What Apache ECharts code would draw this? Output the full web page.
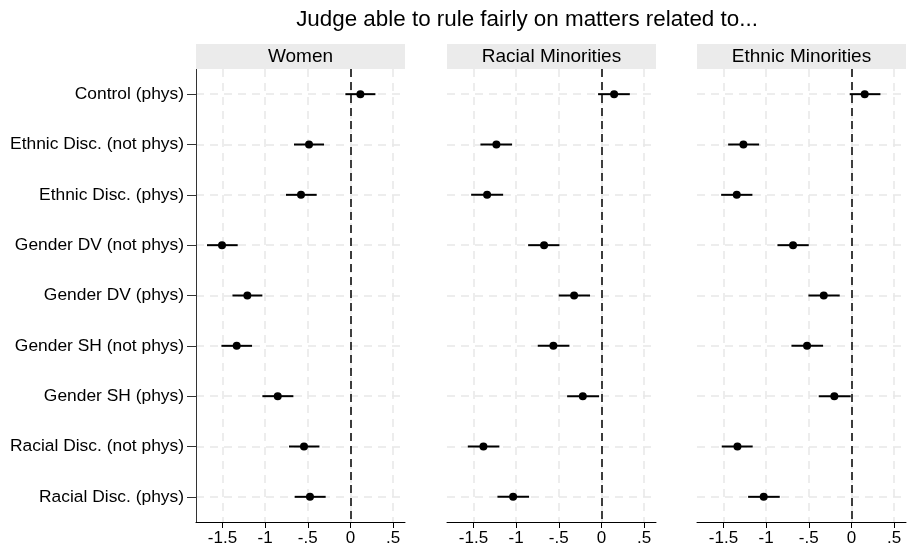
<!DOCTYPE html>
<html><head><meta charset="utf-8">
<script src="https://cdn.jsdelivr.net/npm/echarts@6/dist/echarts.min.js"></script>
<style>html,body{margin:0;padding:0;background:#fff}#c{width:907px;height:551px}</style>
</head><body><div id="c"></div>
<script>
const titleText = 'Judge able to rule fairly on matters related to...';
const panelNames = ['Women', 'Racial Minorities', 'Ethnic Minorities'];
const categories = ['Control (phys)', 'Ethnic Disc. (not phys)', 'Ethnic Disc. (phys)', 'Gender DV (not phys)', 'Gender DV (phys)', 'Gender SH (not phys)', 'Gender SH (phys)', 'Racial Disc. (not phys)', 'Racial Disc. (phys)'];
const tickValues = [-1.5, -1, -0.5, 0, 0.5];
const tickLabels = ['-1.5', '-1', '-.5', '0', '.5'];

const womenEst = [0.117, -0.485, -0.579, -1.505, -1.208, -1.333, -0.852, -0.544, -0.474];
const womenLo  = [-0.059, -0.661, -0.755, -1.681, -1.383, -1.512, -1.032, -0.720, -0.653];
const womenHi  = [0.293, -0.309, -0.395, -1.321, -1.032, -1.153, -0.668, -0.363, -0.290];

const racialEst = [0.149, -1.231, -1.340, -0.672, -0.320, -0.563, -0.218, -1.383, -1.035];
const racialLo  = [-0.039, -1.418, -1.527, -0.859, -0.500, -0.746, -0.402, -1.566, -1.219];
const racialHi  = [0.333, -1.047, -1.152, -0.492, -0.133, -0.375, -0.027, -1.196, -0.848];

const ethnicEst = [0.156, -1.266, -1.344, -0.684, -0.324, -0.520, -0.200, -1.336, -1.028];
const ethnicLo  = [-0.020, -1.445, -1.527, -0.867, -0.504, -0.703, -0.383, -1.520, -1.211];
const ethnicHi  = [0.340, -1.082, -1.160, -0.500, -0.137, -0.332, -0.008, -1.157, -0.840];

const panelData = [
  {est: womenEst, lo: womenLo, hi: womenHi},
  {est: racialEst, lo: racialLo, hi: racialHi},
  {est: ethnicEst, lo: ethnicLo, hi: ethnicHi}
];

const FONT = "'Liberation Sans', Arial, Helvetica, sans-serif";
const gridLefts = [196, 447, 697];
const gridW = 209, gridTop = 69, gridH = 453;
const catPos = categories.map((c, i) => i + 1);

const chart = echarts.init(document.getElementById('c'), null, {renderer: 'canvas'});

const grids = [], xAxes = [], yAxes = [], series = [], graphics = [];
panelNames.forEach((name, p) => {
  grids.push({left: gridLefts[p], top: gridTop, width: gridW, height: gridH, containLabel: false});
  xAxes.push({
    type: 'value', gridIndex: p, min: -1.81, max: 0.64,
    axisLine: {show: true, onZero: false, lineStyle: {color: '#000', width: 1}},
    axisTick: {show: true, length: 6, lineStyle: {color: '#000', width: 1}, customValues: tickValues},
    axisLabel: {show: true, customValues: tickValues, color: '#000', fontFamily: FONT, fontSize: 17, margin: 8,
      formatter: v => { const k = tickValues.findIndex(t => Math.abs(t - v) < 1e-9); return k >= 0 ? tickLabels[k] : ''; }},
    splitLine: {show: true, lineStyle: {color: '#e8e8e8', width: 1.5, type: [8, 6]}}
  });
  yAxes.push({
    type: 'value', gridIndex: p, min: 0.5, max: 9.5, inverse: true,
    axisLine: {show: p === 0, onZero: false, lineStyle: {color: '#333', width: 1}},
    axisTick: {show: p === 0, length: 9, inside: false, lineStyle: {color: '#333', width: 1}, customValues: catPos},
    axisLabel: {show: p === 0, customValues: catPos, color: '#000', fontFamily: FONT, fontSize: 17.4, margin: 12,
      formatter: v => categories[Math.round(v) - 1] || ''},
    splitLine: {show: true, lineStyle: {color: '#e8e8e8', width: 1.5, type: [8, 6]}}
  });
  const d = panelData[p];
  series.push({
    type: 'custom', xAxisIndex: p, yAxisIndex: p, z: 3,
    data: categories.map((c, i) => [d.lo[i], d.hi[i], i + 1]),
    encode: {x: [0, 1], y: 2},
    renderItem: (params, api) => {
      const a = api.coord([api.value(0), api.value(2)]);
      const b = api.coord([api.value(1), api.value(2)]);
      return {type: 'line', shape: {x1: a[0], y1: a[1], x2: b[0], y2: b[1]}, style: {stroke: '#000', lineWidth: 2}};
    },
    silent: true
  });
  series.push({
    type: 'scatter', xAxisIndex: p, yAxisIndex: p, z: 4,
    symbol: 'circle', symbolSize: 8, itemStyle: {color: '#000', opacity: 1},
    data: categories.map((c, i) => [d.est[i], i + 1]),
    markLine: {silent: true, symbol: 'none', label: {show: false}, animation: false,
      lineStyle: {color: '#000', width: 1.5, type: [8, 5], opacity: 1}, data: [{xAxis: 0}]},
    silent: true
  });
  graphics.push({type: 'rect', left: gridLefts[p], top: 44, shape: {width: gridW, height: 25}, style: {fill: '#ebebeb'}, z: 1});
  graphics.push({type: 'text', x: gridLefts[p] + gridW / 2, y: 57, style: {text: name, fill: '#000', font: '19px ' + FONT, textAlign: 'center', textVerticalAlign: 'middle'}, z: 2});
});

chart.setOption({
  animation: false,
  backgroundColor: '#fff',
  graphic: graphics.concat([{type: 'text', x: 527, y: 20, style: {text: titleText, fill: '#000', font: '22.4px ' + FONT, textAlign: 'center', textVerticalAlign: 'middle'}, z: 2}]),
  grid: grids, xAxis: xAxes, yAxis: yAxes, series: series
});
</script></body></html>
